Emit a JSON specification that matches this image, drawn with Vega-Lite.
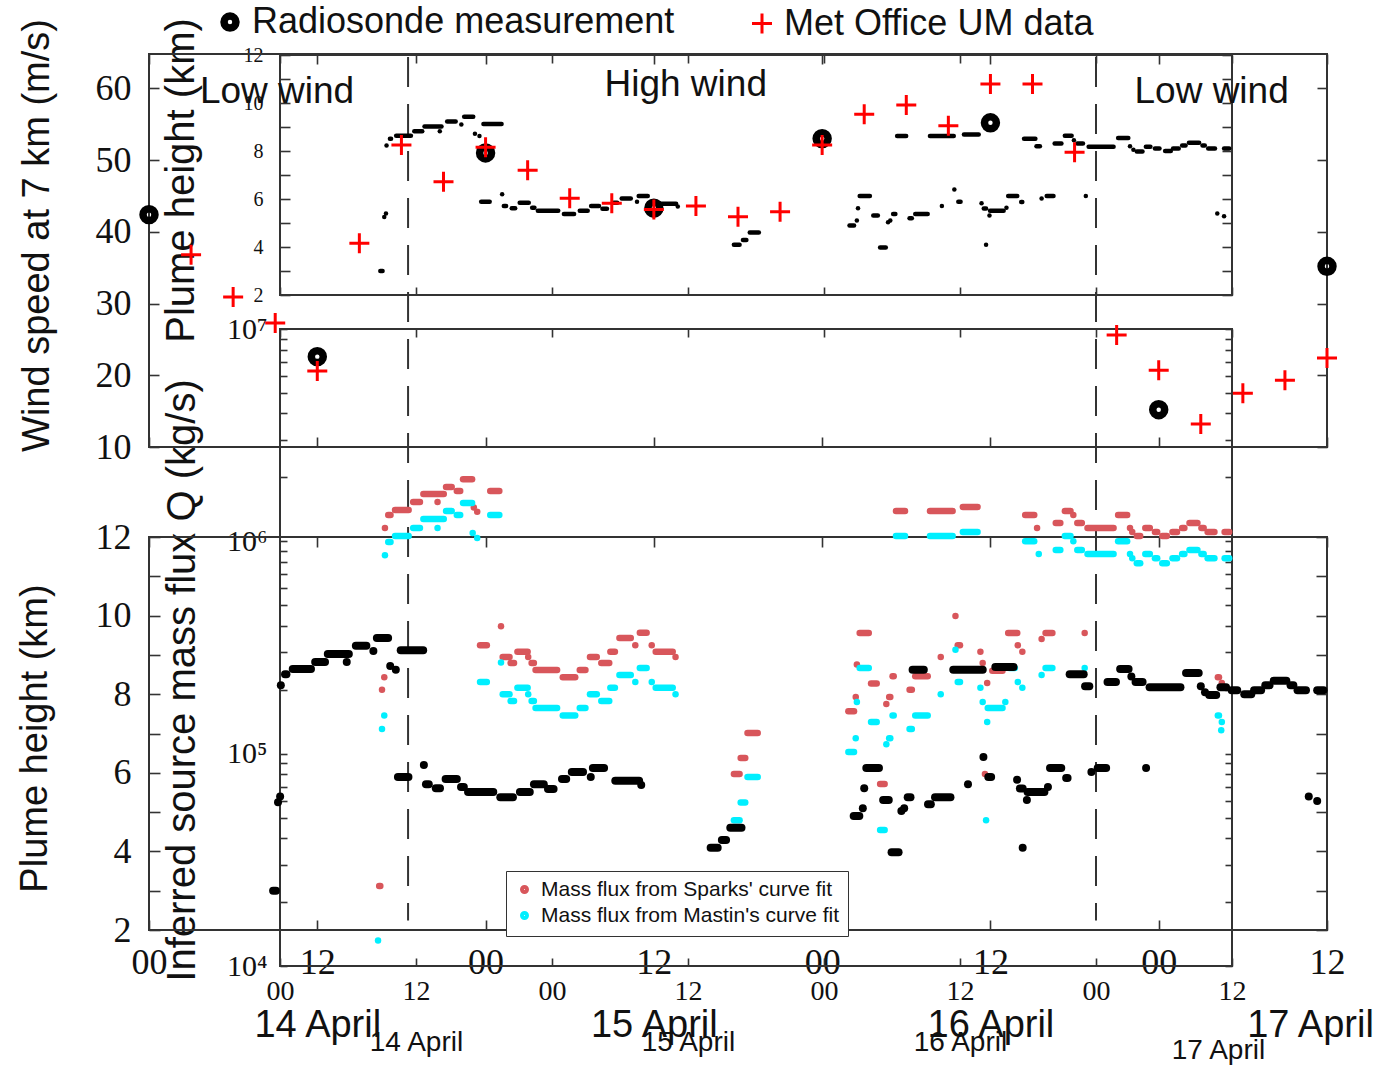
{
  "$schema": "https://vega.github.io/schema/vega-lite/v6.json",
  "width": 1379,
  "height": 1065,
  "autosize": {"type": "none"},
  "padding": 0,
  "background": "white",
  "config": {
    "view": {"stroke": null},
    "font": "Liberation Sans",
    "axis": {"domain": false, "grid": false, "labelOverlap": false, "labelFlush": false, "labelBound": false, "tickColor": "#333", "tickWidth": 1.6, "labelColor": "#111", "titleColor": "#111", "titleFontWeight": "normal", "titleFont": "Liberation Sans"}
  },
  "datasets": {
    "wind": [
      {"series": "Radiosonde measurement", "hours": 0, "speed": 42.4},
      {"series": "Radiosonde measurement", "hours": 12, "speed": 22.6},
      {"series": "Radiosonde measurement", "hours": 24, "speed": 51.0},
      {"series": "Radiosonde measurement", "hours": 36, "speed": 43.3},
      {"series": "Radiosonde measurement", "hours": 48, "speed": 53.0},
      {"series": "Radiosonde measurement", "hours": 60, "speed": 55.2},
      {"series": "Radiosonde measurement", "hours": 72, "speed": 15.2},
      {"series": "Radiosonde measurement", "hours": 84, "speed": 35.2},
      {"series": "Met Office UM data", "hours": 3, "speed": 36.8},
      {"series": "Met Office UM data", "hours": 6, "speed": 30.9},
      {"series": "Met Office UM data", "hours": 9, "speed": 27.3},
      {"series": "Met Office UM data", "hours": 12, "speed": 20.6},
      {"series": "Met Office UM data", "hours": 15, "speed": 38.4},
      {"series": "Met Office UM data", "hours": 18, "speed": 52.1},
      {"series": "Met Office UM data", "hours": 21, "speed": 47.0},
      {"series": "Met Office UM data", "hours": 24, "speed": 51.8},
      {"series": "Met Office UM data", "hours": 27, "speed": 48.6},
      {"series": "Met Office UM data", "hours": 30, "speed": 44.7},
      {"series": "Met Office UM data", "hours": 33, "speed": 44.0},
      {"series": "Met Office UM data", "hours": 36, "speed": 43.1},
      {"series": "Met Office UM data", "hours": 39, "speed": 43.6},
      {"series": "Met Office UM data", "hours": 42, "speed": 42.1},
      {"series": "Met Office UM data", "hours": 45, "speed": 42.8},
      {"series": "Met Office UM data", "hours": 48, "speed": 52.1},
      {"series": "Met Office UM data", "hours": 51, "speed": 56.4},
      {"series": "Met Office UM data", "hours": 54, "speed": 57.7},
      {"series": "Met Office UM data", "hours": 57, "speed": 54.8},
      {"series": "Met Office UM data", "hours": 60, "speed": 60.6},
      {"series": "Met Office UM data", "hours": 63, "speed": 60.6},
      {"series": "Met Office UM data", "hours": 66, "speed": 51.1},
      {"series": "Met Office UM data", "hours": 69, "speed": 25.6},
      {"series": "Met Office UM data", "hours": 72, "speed": 20.7},
      {"series": "Met Office UM data", "hours": 75, "speed": 13.2},
      {"series": "Met Office UM data", "hours": 78, "speed": 17.5},
      {"series": "Met Office UM data", "hours": 81, "speed": 19.3},
      {"series": "Met Office UM data", "hours": 84, "speed": 22.4}
    ],
    "plume": [
      {"start": 8.85, "end": 9.05, "km": 3.0},
      {"start": 9.2, "end": 9.2, "km": 5.25},
      {"start": 9.35, "end": 9.35, "km": 5.4},
      {"start": 9.4, "end": 9.4, "km": 8.23},
      {"start": 9.7, "end": 9.8, "km": 8.51},
      {"start": 10.25, "end": 11.55, "km": 8.64},
      {"start": 11.85, "end": 12.55, "km": 8.82},
      {"start": 12.75, "end": 14.25, "km": 9.02},
      {"start": 14.1, "end": 14.1, "km": 8.82},
      {"start": 14.75, "end": 15.5, "km": 9.23},
      {"start": 16.0, "end": 16.0, "km": 9.1},
      {"start": 16.25, "end": 17.05, "km": 9.43},
      {"start": 17.2, "end": 17.2, "km": 8.72},
      {"start": 17.6, "end": 17.6, "km": 8.62},
      {"start": 17.95, "end": 19.55, "km": 9.12},
      {"start": 19.6, "end": 19.6, "km": 6.2},
      {"start": 17.75, "end": 18.5, "km": 5.89},
      {"start": 19.75, "end": 19.95, "km": 5.71},
      {"start": 20.45, "end": 20.75, "km": 5.61},
      {"start": 21.15, "end": 21.95, "km": 5.84},
      {"start": 22.25, "end": 22.45, "km": 5.64},
      {"start": 22.75, "end": 24.55, "km": 5.51},
      {"start": 25.05, "end": 25.95, "km": 5.38},
      {"start": 26.45, "end": 27.15, "km": 5.51},
      {"start": 27.45, "end": 28.15, "km": 5.71},
      {"start": 28.45, "end": 28.85, "km": 5.59},
      {"start": 29.45, "end": 29.75, "km": 5.84},
      {"start": 30.15, "end": 30.95, "km": 6.02},
      {"start": 31.5, "end": 31.5, "km": 5.89},
      {"start": 31.65, "end": 32.45, "km": 6.12},
      {"start": 33.25, "end": 34.95, "km": 5.8},
      {"start": 35.1, "end": 35.1, "km": 5.69},
      {"start": 40.05, "end": 40.55, "km": 4.09},
      {"start": 40.85, "end": 41.15, "km": 4.29},
      {"start": 41.45, "end": 42.25, "km": 4.6},
      {"start": 50.25, "end": 50.65, "km": 4.9},
      {"start": 50.9, "end": 50.9, "km": 5.1},
      {"start": 51.0, "end": 51.0, "km": 5.61},
      {"start": 51.15, "end": 52.05, "km": 6.12},
      {"start": 52.35, "end": 52.75, "km": 5.31},
      {"start": 52.95, "end": 53.45, "km": 3.98},
      {"start": 53.65, "end": 53.65, "km": 5.03},
      {"start": 53.85, "end": 53.85, "km": 5.1},
      {"start": 54.1, "end": 54.3, "km": 5.38},
      {"start": 54.45, "end": 55.25, "km": 8.62},
      {"start": 55.55, "end": 55.75, "km": 5.2},
      {"start": 56.05, "end": 57.15, "km": 5.38},
      {"start": 57.35, "end": 59.45, "km": 8.62},
      {"start": 58.4, "end": 58.4, "km": 5.71},
      {"start": 59.5, "end": 59.5, "km": 6.4},
      {"start": 59.85, "end": 60.05, "km": 5.89},
      {"start": 60.35, "end": 61.65, "km": 8.69},
      {"start": 61.9, "end": 61.9, "km": 5.82},
      {"start": 62.1, "end": 62.3, "km": 5.6},
      {"start": 62.3, "end": 62.3, "km": 4.09},
      {"start": 62.65, "end": 63.85, "km": 5.51},
      {"start": 62.6, "end": 62.6, "km": 5.31},
      {"start": 64.1, "end": 64.1, "km": 5.64},
      {"start": 64.25, "end": 65.05, "km": 6.12},
      {"start": 65.4, "end": 65.5, "km": 5.87},
      {"start": 65.65, "end": 66.65, "km": 8.51},
      {"start": 66.75, "end": 67.05, "km": 8.2},
      {"start": 67.2, "end": 67.2, "km": 6.02},
      {"start": 67.65, "end": 68.25, "km": 6.12},
      {"start": 68.35, "end": 68.95, "km": 8.31},
      {"start": 69.25, "end": 69.85, "km": 8.64},
      {"start": 70.05, "end": 70.05, "km": 8.45},
      {"start": 70.35, "end": 70.85, "km": 8.31},
      {"start": 71.1, "end": 71.1, "km": 6.12},
      {"start": 71.35, "end": 73.55, "km": 8.18},
      {"start": 73.95, "end": 74.85, "km": 8.54},
      {"start": 75.0, "end": 75.0, "km": 8.2},
      {"start": 75.3, "end": 75.3, "km": 8.05},
      {"start": 75.6, "end": 76.1, "km": 7.98},
      {"start": 76.4, "end": 76.8, "km": 8.18},
      {"start": 77.2, "end": 77.6, "km": 8.1},
      {"start": 78.1, "end": 78.6, "km": 8.0},
      {"start": 78.8, "end": 79.3, "km": 8.1},
      {"start": 79.6, "end": 79.9, "km": 8.23},
      {"start": 80.2, "end": 81.1, "km": 8.34},
      {"start": 81.4, "end": 81.6, "km": 8.23},
      {"start": 81.9, "end": 82.5, "km": 8.1},
      {"start": 82.7, "end": 82.7, "km": 5.4},
      {"start": 83.3, "end": 83.3, "km": 5.28},
      {"start": 83.3, "end": 83.75, "km": 8.1}
    ],
    "massflux": [
      {"method": "Sparks'", "start": 8.75, "end": 8.85, "Q": 23800},
      {"method": "Sparks'", "start": 9.0, "end": 9.0, "Q": 200000},
      {"method": "Sparks'", "start": 9.2, "end": 9.2, "Q": 229000},
      {"method": "Sparks'", "start": 9.26, "end": 9.26, "Q": 1156000},
      {"method": "Sparks'", "start": 9.55, "end": 9.75, "Q": 1330000},
      {"method": "Sparks'", "start": 10.15, "end": 11.35, "Q": 1403000},
      {"method": "Sparks'", "start": 11.75, "end": 12.35, "Q": 1531000},
      {"method": "Sparks'", "start": 13.9, "end": 13.9, "Q": 1531000},
      {"method": "Sparks'", "start": 12.65, "end": 14.45, "Q": 1671000},
      {"method": "Sparks'", "start": 14.65, "end": 15.15, "Q": 1803000},
      {"method": "Sparks'", "start": 15.6, "end": 15.9, "Q": 1726000},
      {"method": "Sparks'", "start": 16.15, "end": 16.95, "Q": 1963000},
      {"method": "Sparks'", "start": 17.1, "end": 17.1, "Q": 1445000},
      {"method": "Sparks'", "start": 17.4, "end": 17.4, "Q": 1380000},
      {"method": "Sparks'", "start": 18.55, "end": 19.35, "Q": 1726000},
      {"method": "Sparks'", "start": 17.65, "end": 18.25, "Q": 323600},
      {"method": "Sparks'", "start": 19.5, "end": 19.5, "Q": 398100},
      {"method": "Sparks'", "start": 19.65, "end": 20.25, "Q": 285100},
      {"method": "Sparks'", "start": 20.35, "end": 20.65, "Q": 267300},
      {"method": "Sparks'", "start": 20.95, "end": 21.85, "Q": 302000},
      {"method": "Sparks'", "start": 21.9, "end": 21.9, "Q": 285100},
      {"method": "Sparks'", "start": 22.2, "end": 22.4, "Q": 267300},
      {"method": "Sparks'", "start": 22.55, "end": 24.45, "Q": 247700},
      {"method": "Sparks'", "start": 24.95, "end": 26.05, "Q": 229000},
      {"method": "Sparks'", "start": 26.45, "end": 26.95, "Q": 247700},
      {"method": "Sparks'", "start": 27.35, "end": 27.95, "Q": 285100},
      {"method": "Sparks'", "start": 28.35, "end": 29.05, "Q": 267300},
      {"method": "Sparks'", "start": 29.15, "end": 29.55, "Q": 302000},
      {"method": "Sparks'", "start": 29.95, "end": 30.95, "Q": 350800},
      {"method": "Sparks'", "start": 31.35, "end": 31.35, "Q": 323600},
      {"method": "Sparks'", "start": 31.75, "end": 32.35, "Q": 371500},
      {"method": "Sparks'", "start": 32.8, "end": 32.8, "Q": 323600},
      {"method": "Sparks'", "start": 33.15, "end": 34.65, "Q": 302000},
      {"method": "Sparks'", "start": 34.9, "end": 34.9, "Q": 285100},
      {"method": "Sparks'", "start": 40.05, "end": 40.55, "Q": 80200},
      {"method": "Sparks'", "start": 40.65, "end": 41.05, "Q": 95500},
      {"method": "Sparks'", "start": 41.25, "end": 42.15, "Q": 125000},
      {"method": "Sparks'", "start": 50.15, "end": 50.65, "Q": 158500},
      {"method": "Sparks'", "start": 50.8, "end": 50.8, "Q": 184900},
      {"method": "Sparks'", "start": 50.9, "end": 50.9, "Q": 263000},
      {"method": "Sparks'", "start": 51.15, "end": 51.95, "Q": 369800},
      {"method": "Sparks'", "start": 52.15, "end": 52.65, "Q": 213800},
      {"method": "Sparks'", "start": 52.95, "end": 53.35, "Q": 71900},
      {"method": "Sparks'", "start": 53.5, "end": 53.5, "Q": 171400},
      {"method": "Sparks'", "start": 53.75, "end": 53.85, "Q": 184900},
      {"method": "Sparks'", "start": 54.05, "end": 54.15, "Q": 231700},
      {"method": "Sparks'", "start": 55.55, "end": 55.75, "Q": 200000},
      {"method": "Sparks'", "start": 56.05, "end": 57.15, "Q": 231700},
      {"method": "Sparks'", "start": 58.3, "end": 58.3, "Q": 285100},
      {"method": "Sparks'", "start": 59.6, "end": 59.6, "Q": 444600},
      {"method": "Sparks'", "start": 59.8, "end": 60.0, "Q": 323600},
      {"method": "Sparks'", "start": 61.8, "end": 61.8, "Q": 302000},
      {"method": "Sparks'", "start": 62.0, "end": 62.0, "Q": 267300},
      {"method": "Sparks'", "start": 62.2, "end": 62.2, "Q": 80200},
      {"method": "Sparks'", "start": 62.4, "end": 62.4, "Q": 215300},
      {"method": "Sparks'", "start": 62.85, "end": 63.75, "Q": 245500},
      {"method": "Sparks'", "start": 64.25, "end": 65.05, "Q": 369800},
      {"method": "Sparks'", "start": 65.1, "end": 65.1, "Q": 323600},
      {"method": "Sparks'", "start": 65.5, "end": 65.5, "Q": 302000},
      {"method": "Sparks'", "start": 67.2, "end": 67.2, "Q": 346700},
      {"method": "Sparks'", "start": 67.55, "end": 68.15, "Q": 369800},
      {"method": "Sparks'", "start": 71.0, "end": 71.0, "Q": 369800},
      {"method": "Sparks'", "start": 82.75, "end": 82.85, "Q": 229000},
      {"method": "Sparks'", "start": 83.1, "end": 83.1, "Q": 215300},
      {"method": "Sparks'", "start": 54.35, "end": 55.15, "Q": 1390000},
      {"method": "Sparks'", "start": 57.35, "end": 59.35, "Q": 1390000},
      {"method": "Sparks'", "start": 60.25, "end": 61.55, "Q": 1452000},
      {"method": "Sparks'", "start": 65.75, "end": 66.55, "Q": 1330000},
      {"method": "Sparks'", "start": 66.8, "end": 66.8, "Q": 1156000},
      {"method": "Sparks'", "start": 68.45, "end": 68.85, "Q": 1219000},
      {"method": "Sparks'", "start": 69.25, "end": 69.75, "Q": 1390000},
      {"method": "Sparks'", "start": 70.0, "end": 70.0, "Q": 1330000},
      {"method": "Sparks'", "start": 70.35, "end": 70.75, "Q": 1219000},
      {"method": "Sparks'", "start": 71.25, "end": 73.55, "Q": 1156000},
      {"method": "Sparks'", "start": 73.95, "end": 74.75, "Q": 1330000},
      {"method": "Sparks'", "start": 75.0, "end": 75.0, "Q": 1156000},
      {"method": "Sparks'", "start": 75.2, "end": 75.2, "Q": 1107000},
      {"method": "Sparks'", "start": 75.6, "end": 75.9, "Q": 1059000},
      {"method": "Sparks'", "start": 76.35, "end": 76.75, "Q": 1156000},
      {"method": "Sparks'", "start": 77.2, "end": 77.4, "Q": 1107000},
      {"method": "Sparks'", "start": 77.85, "end": 78.25, "Q": 1059000},
      {"method": "Sparks'", "start": 78.75, "end": 79.15, "Q": 1107000},
      {"method": "Sparks'", "start": 79.6, "end": 79.8, "Q": 1156000},
      {"method": "Sparks'", "start": 80.25, "end": 80.95, "Q": 1219000},
      {"method": "Sparks'", "start": 81.3, "end": 81.5, "Q": 1156000},
      {"method": "Sparks'", "start": 81.85, "end": 82.45, "Q": 1107000},
      {"method": "Sparks'", "start": 83.35, "end": 83.75, "Q": 1107000},
      {"method": "Mastin's", "start": 8.65, "end": 8.65, "Q": 13200},
      {"method": "Mastin's", "start": 9.0, "end": 9.0, "Q": 130600},
      {"method": "Mastin's", "start": 9.2, "end": 9.2, "Q": 151400},
      {"method": "Mastin's", "start": 9.26, "end": 9.26, "Q": 861000},
      {"method": "Mastin's", "start": 9.55, "end": 9.75, "Q": 993000},
      {"method": "Mastin's", "start": 10.15, "end": 11.35, "Q": 1059000},
      {"method": "Mastin's", "start": 11.75, "end": 12.35, "Q": 1156000},
      {"method": "Mastin's", "start": 13.9, "end": 13.9, "Q": 1156000},
      {"method": "Mastin's", "start": 12.65, "end": 14.45, "Q": 1274000},
      {"method": "Mastin's", "start": 14.65, "end": 15.15, "Q": 1390000},
      {"method": "Mastin's", "start": 15.6, "end": 15.9, "Q": 1330000},
      {"method": "Mastin's", "start": 16.15, "end": 16.95, "Q": 1514000},
      {"method": "Mastin's", "start": 17.0, "end": 17.0, "Q": 1096000},
      {"method": "Mastin's", "start": 17.4, "end": 17.4, "Q": 1038000},
      {"method": "Mastin's", "start": 18.55, "end": 19.35, "Q": 1330000},
      {"method": "Mastin's", "start": 17.65, "end": 18.25, "Q": 217300},
      {"method": "Mastin's", "start": 19.5, "end": 19.5, "Q": 269000},
      {"method": "Mastin's", "start": 19.65, "end": 20.25, "Q": 190500},
      {"method": "Mastin's", "start": 20.35, "end": 20.65, "Q": 177000},
      {"method": "Mastin's", "start": 20.95, "end": 21.85, "Q": 204200},
      {"method": "Mastin's", "start": 21.9, "end": 21.9, "Q": 190500},
      {"method": "Mastin's", "start": 22.2, "end": 22.4, "Q": 177000},
      {"method": "Mastin's", "start": 22.55, "end": 24.45, "Q": 164100},
      {"method": "Mastin's", "start": 24.95, "end": 26.05, "Q": 151400},
      {"method": "Mastin's", "start": 26.45, "end": 26.95, "Q": 164100},
      {"method": "Mastin's", "start": 27.35, "end": 27.95, "Q": 190500},
      {"method": "Mastin's", "start": 28.35, "end": 29.05, "Q": 177000},
      {"method": "Mastin's", "start": 29.15, "end": 29.55, "Q": 204200},
      {"method": "Mastin's", "start": 29.95, "end": 30.95, "Q": 234400},
      {"method": "Mastin's", "start": 31.35, "end": 31.35, "Q": 217300},
      {"method": "Mastin's", "start": 31.75, "end": 32.35, "Q": 252900},
      {"method": "Mastin's", "start": 32.8, "end": 32.8, "Q": 217300},
      {"method": "Mastin's", "start": 33.15, "end": 34.65, "Q": 204200},
      {"method": "Mastin's", "start": 34.9, "end": 34.9, "Q": 190500},
      {"method": "Mastin's", "start": 40.05, "end": 40.55, "Q": 48600},
      {"method": "Mastin's", "start": 40.65, "end": 41.05, "Q": 58900},
      {"method": "Mastin's", "start": 41.25, "end": 42.15, "Q": 77600},
      {"method": "Mastin's", "start": 50.15, "end": 50.65, "Q": 101900},
      {"method": "Mastin's", "start": 50.8, "end": 50.8, "Q": 118300},
      {"method": "Mastin's", "start": 50.9, "end": 50.9, "Q": 175000},
      {"method": "Mastin's", "start": 51.15, "end": 51.95, "Q": 252900},
      {"method": "Mastin's", "start": 52.15, "end": 52.65, "Q": 140900},
      {"method": "Mastin's", "start": 52.95, "end": 53.35, "Q": 43700},
      {"method": "Mastin's", "start": 53.5, "end": 53.5, "Q": 110900},
      {"method": "Mastin's", "start": 53.75, "end": 53.85, "Q": 118300},
      {"method": "Mastin's", "start": 54.05, "end": 54.15, "Q": 151400},
      {"method": "Mastin's", "start": 55.55, "end": 55.75, "Q": 130600},
      {"method": "Mastin's", "start": 56.05, "end": 57.15, "Q": 151400},
      {"method": "Mastin's", "start": 58.3, "end": 58.3, "Q": 190500},
      {"method": "Mastin's", "start": 59.6, "end": 59.6, "Q": 309000},
      {"method": "Mastin's", "start": 59.8, "end": 60.0, "Q": 217300},
      {"method": "Mastin's", "start": 61.8, "end": 61.8, "Q": 204200},
      {"method": "Mastin's", "start": 62.0, "end": 62.0, "Q": 175000},
      {"method": "Mastin's", "start": 62.3, "end": 62.3, "Q": 48600},
      {"method": "Mastin's", "start": 62.4, "end": 62.4, "Q": 140900},
      {"method": "Mastin's", "start": 62.45, "end": 63.75, "Q": 164100},
      {"method": "Mastin's", "start": 64.0, "end": 64.0, "Q": 175000},
      {"method": "Mastin's", "start": 64.35, "end": 64.85, "Q": 252900},
      {"method": "Mastin's", "start": 65.1, "end": 65.1, "Q": 217300},
      {"method": "Mastin's", "start": 65.5, "end": 65.5, "Q": 204200},
      {"method": "Mastin's", "start": 67.2, "end": 67.2, "Q": 234400},
      {"method": "Mastin's", "start": 67.55, "end": 68.15, "Q": 252900},
      {"method": "Mastin's", "start": 71.0, "end": 71.0, "Q": 252900},
      {"method": "Mastin's", "start": 82.75, "end": 82.85, "Q": 151400},
      {"method": "Mastin's", "start": 83.1, "end": 83.1, "Q": 140900},
      {"method": "Mastin's", "start": 83.05, "end": 83.05, "Q": 129000},
      {"method": "Mastin's", "start": 54.35, "end": 55.15, "Q": 1059000},
      {"method": "Mastin's", "start": 57.35, "end": 59.35, "Q": 1059000},
      {"method": "Mastin's", "start": 60.25, "end": 61.55, "Q": 1107000},
      {"method": "Mastin's", "start": 65.75, "end": 66.55, "Q": 1000000},
      {"method": "Mastin's", "start": 66.95, "end": 66.95, "Q": 871000},
      {"method": "Mastin's", "start": 68.45, "end": 68.85, "Q": 910000},
      {"method": "Mastin's", "start": 69.25, "end": 69.75, "Q": 1059000},
      {"method": "Mastin's", "start": 70.0, "end": 70.0, "Q": 1000000},
      {"method": "Mastin's", "start": 70.35, "end": 70.75, "Q": 910000},
      {"method": "Mastin's", "start": 71.25, "end": 73.55, "Q": 871000},
      {"method": "Mastin's", "start": 73.95, "end": 74.75, "Q": 1000000},
      {"method": "Mastin's", "start": 75.0, "end": 75.0, "Q": 871000},
      {"method": "Mastin's", "start": 75.2, "end": 75.2, "Q": 832000},
      {"method": "Mastin's", "start": 75.6, "end": 75.9, "Q": 789000},
      {"method": "Mastin's", "start": 76.35, "end": 76.75, "Q": 871000},
      {"method": "Mastin's", "start": 77.2, "end": 77.4, "Q": 832000},
      {"method": "Mastin's", "start": 77.85, "end": 78.25, "Q": 789000},
      {"method": "Mastin's", "start": 78.75, "end": 79.15, "Q": 832000},
      {"method": "Mastin's", "start": 79.6, "end": 79.8, "Q": 871000},
      {"method": "Mastin's", "start": 80.25, "end": 80.95, "Q": 910000},
      {"method": "Mastin's", "start": 81.3, "end": 81.5, "Q": 871000},
      {"method": "Mastin's", "start": 81.85, "end": 82.45, "Q": 832000},
      {"method": "Mastin's", "start": 83.35, "end": 83.75, "Q": 832000}
    ],
    "regimes": [
      {"hours": 11.3, "top": 191000000, "bottom": 16400},
      {"hours": 72, "top": 191000000, "bottom": 16400}
    ],
    "notes": [
      {"label": "Low wind", "hours": -0.26, "km": 10.44},
      {"label": "High wind", "hours": 35.8, "km": 10.73},
      {"label": "Low wind", "hours": 82.2, "km": 10.44}
    ]
  },
  "layer": [
    {
      "data": {"values": [{"t0": 0, "t1": 84, "lo": 10, "hi": 64.8}]},
      "mark": {"type": "rect", "filled": false, "stroke": "#333", "strokeWidth": 2},
      "encoding": {
        "x": {"field": "t0", "type": "quantitative", "scale": {"domain": [0, 84], "range": [149, 1327], "nice": false, "zero": false},
          "axis": {"orient": "top", "offset": -54, "values": [0, 12, 24, 36, 48, 60, 72, 84], "labels": false, "tickSize": -10, "title": null}},
        "x2": {"field": "t1"},
        "y": {"field": "lo", "type": "quantitative", "scale": {"domain": [10, 64.8], "range": [447, 54], "nice": false, "zero": false},
          "axis": {"orient": "left", "offset": -149, "values": [10, 20, 30, 40, 50, 60], "tickSize": -10, "labelPadding": 28, "labelFont": "Liberation Serif", "labelFontSize": 36,
            "title": "Wind speed at 7 km (m/s)", "titleFontSize": 38, "titleX": -112, "titleY": 235, "titleAngle": -90, "titleAlign": "center", "titleBaseline": "middle"}},
        "y2": {"field": "hi"}
      }
    },
    {
      "data": {"values": [{"t0": 0, "t1": 84, "lo": 2, "hi": 12}]},
      "mark": {"type": "rect", "filled": false, "stroke": "#333", "strokeWidth": 2},
      "encoding": {
        "x": {"field": "t0", "type": "quantitative", "scale": {"domain": [0, 84], "range": [149, 1327], "nice": false, "zero": false},
          "axis": {"orient": "bottom", "offset": -135, "values": [0, 12, 24, 36, 48, 60, 72, 84], "tickSize": -10, "labelPadding": 25, "labelFont": "Liberation Serif", "labelFontSize": 36,
            "labelExpr": "datum.value % 24 == 0 ? '00' : '12'", "title": null}},
        "x2": {"field": "t1"},
        "y": {"field": "lo", "type": "quantitative", "scale": {"domain": [2, 12], "range": [930, 537], "nice": false, "zero": false},
          "axis": {"orient": "left", "offset": -149, "values": [2, 3, 4, 5, 6, 7, 8, 9, 10, 11, 12], "tickSize": -11, "labelPadding": 29, "labelFont": "Liberation Serif", "labelFontSize": 36,
            "labelExpr": "datum.value % 2 == 0 ? datum.label : ''",
            "title": "Plume height (km)", "titleFontSize": 38, "titleX": -114, "titleY": 738, "titleAngle": -90, "titleAlign": "center", "titleBaseline": "middle"}},
        "y2": {"field": "hi"}
      }
    },
    {
      "data": {"values": [{"t0": 0, "t1": 84, "lo": 2, "hi": 12}]},
      "mark": {"type": "rect", "filled": false, "strokeOpacity": 0},
      "encoding": {
        "x": {"field": "t0", "type": "quantitative", "scale": {"domain": [0, 84], "range": [149, 1327], "nice": false, "zero": false},
          "axis": {"orient": "bottom", "offset": -135, "values": [12, 36, 60, 84], "ticks": false, "labelPadding": 76, "labelFont": "Liberation Sans", "labelFontSize": 38,
            "labelExpr": "(14 + floor(datum.value / 24)) + ' April'",
            "labelOffset": {"condition": {"test": "datum.value == 84", "value": -17}, "value": 0}, "title": null}},
        "x2": {"field": "t1"},
        "y": {"field": "lo", "type": "quantitative", "scale": {"domain": [2, 12], "range": [930, 537], "nice": false, "zero": false}, "axis": null},
        "y2": {"field": "hi"}
      }
    },
    {
      "data": {"values": [{"t0": 0, "t1": 84, "lo": 10000, "hi": 10000000}]},
      "mark": {"type": "rect", "filled": false, "stroke": "#333", "strokeWidth": 2},
      "encoding": {
        "x": {"field": "t0", "type": "quantitative", "scale": {"domain": [0, 84], "range": [280, 1232], "nice": false, "zero": false},
          "axis": {"orient": "bottom", "offset": -99, "values": [0, 12, 24, 36, 48, 60, 72, 84], "tickSize": -8, "labelPadding": 19, "labelFont": "Liberation Serif", "labelFontSize": 28,
            "labelExpr": "datum.value % 24 == 0 ? '00' : '12'", "title": null}},
        "x2": {"field": "t1"},
        "y": {"field": "lo", "type": "quantitative", "scale": {"type": "log", "domain": [10000, 10000000], "range": [966, 329], "nice": false},
          "axis": {"orient": "left", "offset": -280,
            "values": [10000, 20000, 30000, 40000, 50000, 60000, 70000, 80000, 90000, 100000, 200000, 300000, 400000, 500000, 600000, 700000, 800000, 900000, 1000000, 2000000, 3000000, 4000000, 5000000, 6000000, 7000000, 8000000, 9000000, 10000000],
            "tickSize": -7, "labelPadding": 20, "labelFont": "Liberation Serif", "labelFontSize": 30,
            "labelExpr": "datum.value == 10000 ? '10⁴' : datum.value == 100000 ? '10⁵' : datum.value == 1000000 ? '10⁶' : datum.value == 10000000 ? '10⁷' : ''",
            "title": "Inferred source mass flux Q (kg/s)", "titleFontSize": 40, "titleX": -98, "titleY": 680, "titleAngle": -90, "titleAlign": "center", "titleBaseline": "middle"}},
        "y2": {"field": "hi"}
      }
    },
    {
      "data": {"values": [{"t0": 0, "t1": 84, "lo": 10000, "hi": 10000000}]},
      "mark": {"type": "rect", "filled": false, "strokeOpacity": 0},
      "encoding": {
        "x": {"field": "t0", "type": "quantitative", "scale": {"domain": [0, 84], "range": [280, 1232], "nice": false, "zero": false},
          "axis": {"orient": "bottom", "offset": -99, "values": [12, 36, 60, 84], "ticks": false, "labelFont": "Liberation Sans", "labelFontSize": 28,
            "labelExpr": "(14 + floor(datum.value / 24)) + ' April'",
            "labelPadding": {"condition": {"test": "datum.value == 84", "value": 70}, "value": 62},
            "labelOffset": {"condition": {"test": "datum.value == 84", "value": -14}, "value": 0}, "title": null}},
        "x2": {"field": "t1"},
        "y": {"field": "lo", "type": "quantitative", "scale": {"type": "log", "domain": [10000, 10000000], "range": [966, 329], "nice": false}, "axis": null},
        "y2": {"field": "hi"}
      }
    },
    {
      "data": {"values": [{"t0": 0, "t1": 84, "lo": 2, "hi": 12}]},
      "mark": {"type": "rect", "filled": false, "stroke": "#333", "strokeWidth": 2},
      "encoding": {
        "x": {"field": "t0", "type": "quantitative", "scale": {"domain": [0, 84], "range": [280, 1232], "nice": false, "zero": false},
          "axis": {"orient": "top", "offset": -55, "values": [0, 12, 24, 36, 48, 60, 72, 84], "labels": false, "tickSize": -8, "title": null}},
        "x2": {"field": "t1"},
        "y": {"field": "lo", "type": "quantitative", "scale": {"domain": [2, 12], "range": [295, 55], "nice": false, "zero": false},
          "axis": {"orient": "left", "offset": -280, "values": [2, 3, 4, 5, 6, 7, 8, 9, 10, 11, 12], "tickSize": -10, "labelPadding": 27, "labelFont": "Liberation Serif", "labelFontSize": 20,
            "labelExpr": "datum.value % 2 == 0 ? datum.label : ''",
            "title": "Plume height (km)", "titleFontSize": 40, "titleX": -99, "titleY": 180, "titleAngle": -90, "titleAlign": "center", "titleBaseline": "middle"}},
        "y2": {"field": "hi"}
      }
    },
    {
      "data": {"name": "regimes"},
      "mark": {"type": "rule", "strokeDash": [30, 17], "strokeWidth": 2, "color": "#333"},
      "encoding": {
        "x": {"field": "hours", "type": "quantitative", "scale": {"domain": [0, 84], "range": [280, 1232], "nice": false, "zero": false}, "axis": null},
        "y": {"field": "top", "type": "quantitative", "scale": {"type": "log", "domain": [10000, 10000000], "range": [966, 329], "nice": false}, "axis": null},
        "y2": {"field": "bottom"}
      }
    },
    {
      "data": {"name": "massflux"},
      "mark": {"type": "rule", "strokeWidth": 6.5, "strokeCap": "round"},
      "encoding": {
        "x": {"field": "start", "type": "quantitative", "scale": {"domain": [0, 84], "range": [280, 1232], "nice": false, "zero": false},
          "axis": {"orient": "top", "offset": -329, "values": [0, 12, 24, 36, 48, 60, 72, 84], "labels": false, "tickSize": -8, "title": null}},
        "x2": {"field": "end"},
        "y": {"field": "Q", "type": "quantitative", "scale": {"type": "log", "domain": [10000, 10000000], "range": [966, 329], "nice": false},
          "axis": {"orient": "right", "offset": -147, "values": [10000, 20000, 30000, 40000, 50000, 60000, 70000, 80000, 90000, 100000, 200000, 300000, 400000, 500000, 600000, 700000, 800000, 900000, 1000000, 2000000, 3000000, 4000000, 5000000, 6000000, 7000000, 8000000, 9000000, 10000000],
            "labels": false, "tickSize": -7, "title": null}},
        "color": {"field": "method", "type": "nominal",
          "scale": {"domain": ["Sparks'", "Mastin's"], "range": ["#d8565b", "#00efff"]},
          "legend": {"orient": "none", "legendX": 506, "legendY": 871, "direction": "vertical", "title": null,
            "labelExpr": "'Mass flux from ' + datum.label + ' curve fit\u00a0'", "labelFont": "Liberation Sans", "labelFontSize": 21, "labelColor": "#111", "labelLimit": 600,
            "symbolType": "circle", "symbolSize": 16, "symbolStrokeWidth": 5, "strokeColor": "#333", "fillColor": "white", "padding": 8, "rowPadding": 1, "labelOffset": 6}}
      }
    },
    {
      "data": {"name": "plume"},
      "mark": {"type": "rule", "strokeWidth": 8, "strokeCap": "round", "color": "black"},
      "encoding": {
        "x": {"field": "start", "type": "quantitative", "scale": {"domain": [0, 84], "range": [149, 1327], "nice": false, "zero": false},
          "axis": {"orient": "top", "offset": -537, "values": [0, 12, 24, 36, 48, 60, 72, 84], "labels": false, "tickSize": -10, "title": null}},
        "x2": {"field": "end"},
        "y": {"field": "km", "type": "quantitative", "scale": {"domain": [2, 12], "range": [930, 537], "nice": false, "zero": false},
          "axis": {"orient": "right", "offset": -52, "values": [2, 3, 4, 5, 6, 7, 8, 9, 10, 11, 12], "labels": false, "tickSize": -11, "title": null}}
      }
    },
    {
      "data": {"name": "plume"},
      "mark": {"type": "rule", "strokeWidth": 4.5, "strokeCap": "round", "color": "black"},
      "encoding": {
        "x": {"field": "start", "type": "quantitative", "scale": {"domain": [0, 84], "range": [280, 1232], "nice": false, "zero": false},
          "axis": {"orient": "bottom", "offset": -770, "values": [0, 12, 24, 36, 48, 60, 72, 84], "labels": false, "tickSize": -8, "title": null}},
        "x2": {"field": "end"},
        "y": {"field": "km", "type": "quantitative", "scale": {"domain": [2, 12], "range": [295, 55], "nice": false, "zero": false},
          "axis": {"orient": "right", "offset": -147, "values": [2, 3, 4, 5, 6, 7, 8, 9, 10, 11, 12], "labels": false, "tickSize": -10, "title": null}}
      }
    },
    {
      "data": {"name": "wind"},
      "mark": {"type": "point", "filled": false, "opacity": 1},
      "encoding": {
        "x": {"field": "hours", "type": "quantitative", "scale": {"domain": [0, 84], "range": [149, 1327], "nice": false, "zero": false},
          "axis": {"orient": "bottom", "offset": -618, "values": [0, 12, 24, 36, 48, 60, 72, 84], "labels": false, "tickSize": -10, "title": null}},
        "y": {"field": "speed", "type": "quantitative", "scale": {"domain": [10, 64.8], "range": [447, 54], "nice": false, "zero": false},
          "axis": {"orient": "right", "offset": -52, "values": [10, 20, 30, 40, 50, 60], "labels": false, "tickSize": -10, "title": null}},
        "color": {"field": "series", "type": "nominal",
          "scale": {"domain": ["Radiosonde measurement", "Met Office UM data"], "range": ["#000000", "#ff0000"]},
          "legend": {"orient": "none", "legendX": 212, "legendY": 4, "direction": "horizontal", "title": null, "labelFont": "Liberation Sans", "labelFontSize": 36, "labelColor": "#111", "labelLimit": 800, "columnPadding": 69, "labelOffset": 4}},
        "shape": {"field": "series", "type": "nominal", "scale": {"domain": ["Radiosonde measurement", "Met Office UM data"], "range": ["circle", "M-1,0H1M0,-1V1"]}},
        "size": {"field": "series", "type": "nominal", "scale": {"domain": ["Radiosonde measurement", "Met Office UM data"], "range": [143, 400]}},
        "strokeWidth": {"field": "series", "type": "nominal", "scale": {"domain": ["Radiosonde measurement", "Met Office UM data"], "range": [7.5, 3]}}
      }
    },
    {
      "data": {"name": "notes"},
      "mark": {"type": "text", "font": "Liberation Sans", "fontSize": 37, "baseline": "middle", "align": "center", "color": "#111"},
      "encoding": {
        "x": {"field": "hours", "type": "quantitative", "scale": {"domain": [0, 84], "range": [280, 1232], "nice": false, "zero": false}, "axis": null},
        "y": {"field": "km", "type": "quantitative", "scale": {"domain": [2, 12], "range": [295, 55], "nice": false, "zero": false}, "axis": null},
        "text": {"field": "label"}
      }
    }
  ],
  "resolve": {
    "scale": {"x": "independent", "y": "independent", "color": "independent", "shape": "independent", "size": "independent", "strokeWidth": "independent"},
    "axis": {"x": "independent", "y": "independent"},
    "legend": {"color": "independent"}
  }
}
